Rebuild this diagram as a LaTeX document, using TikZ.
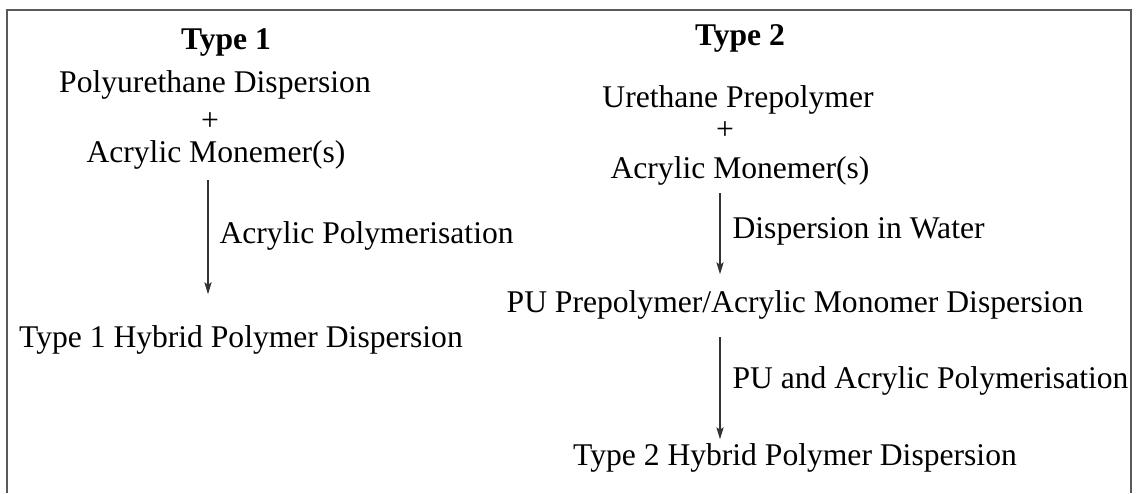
\documentclass[tikz,border=0pt]{standalone}
\usepackage{fontspec}
\setmainfont{Liberation Serif}
\usetikzlibrary{arrows.meta}

\begin{document}
\begin{tikzpicture}[x=0.5pt, y=-0.5pt,
    txt/.style={inner sep=0pt, font=\fontsize{15.8}{19}\selectfont, anchor=base},
    head/.style={txt, font=\fontsize{15.8}{19}\selectfont\bfseries},
    flow/.style={-{Stealth[length=6pt, width=3.6pt, inset=1.2pt]}, line width=0.6pt, black!80},
    arrowlabel/.style={txt, anchor=base west, text=black}
]
\useasboundingbox (0,0) rectangle (1139,493);

% Frame, open at the bottom
\draw[line width=1pt, black!65] (7,493) -- (7,10) -- (1131,10) -- (1131,493);

% Type 1 column
\node[head] (type1) at (226,49) {Type 1};
\node[txt] (pud1) at (215,92) {Polyurethane Dispersion};
\node[txt, anchor=center] (plus1) at (210,122) {+};
\node[txt] (acm1) at (216,162) {Acrylic Monemer(s)};
\node[txt] (hyb1) at (241,347) {Type 1 Hybrid Polymer Dispersion};

% Type 2 column
\node[head] (type2) at (740,45) {Type 2};
\node[txt] (ure2) at (738,107) {Urethane Prepolymer};
\node[txt, anchor=center] (plus2) at (725,131) {+};
\node[txt] (acm2) at (740,178) {Acrylic Monemer(s)};
\node[txt] (pud2) at (795,312) {PU Prepolymer/Acrylic Monomer Dispersion};
\node[txt] (hyb2) at (795,465) {Type 2 Hybrid Polymer Dispersion};

% Arrows
\draw[flow, shorten <=5.5pt, shorten >=15.2pt] ([xshift=-4pt]acm1.south)
    -- node[arrowlabel, pos=0.48, xshift=5.5pt] {Acrylic Polymerisation}
    ([xshift=-4pt]acm1.south |- hyb1.north);
\draw[flow, shorten <=4pt, shorten >=7.7pt] ([xshift=-10pt]acm2.south)
    -- node[arrowlabel, pos=0.512, xshift=6pt] {Dispersion in Water}
    ([xshift=-10pt]acm2.south |- pud2.north);
\draw[flow, shorten <=9pt, shorten >=1.7pt] ([xshift=-10pt]acm2.south |- pud2.south)
    -- node[arrowlabel, pos=0.563, xshift=6pt] {PU and Acrylic Polymerisation}
    ([xshift=-10pt]acm2.south |- hyb2.north);

\end{tikzpicture}
\end{document}
